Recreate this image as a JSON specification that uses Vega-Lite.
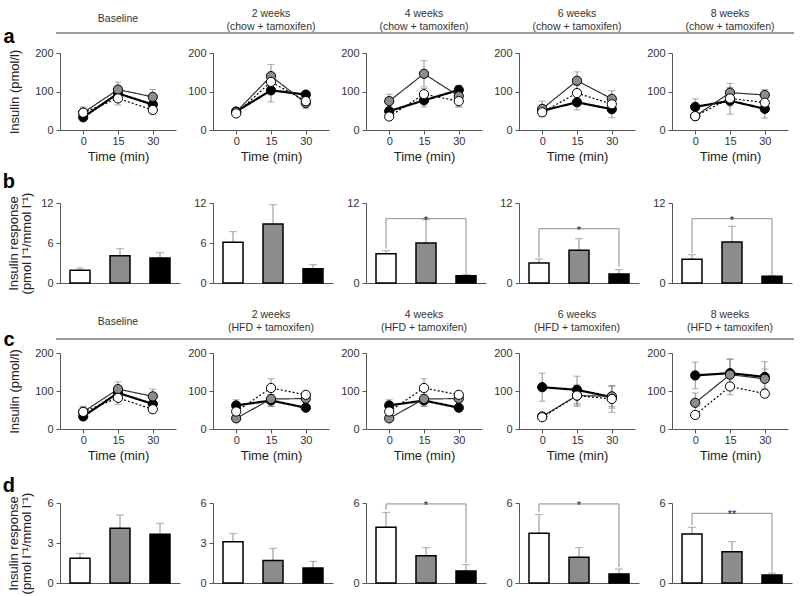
{
"$schema":"https://vega.github.io/schema/vega-lite/v6.json",
"padding":{"left":2,"top":9,"right":5,"bottom":5},
"background":"white",
"config":{
 "view":{"stroke":null},
 "font":"Liberation Sans",
 "axis":{"domainColor":"#555","tickColor":"#555","labelColor":"#333","titleColor":"#222","labelFontSize":11,"titleFontSize":13,"titleFontWeight":"normal","grid":false,"tickSize":4,"domainWidth":1,"tickWidth":1,"labelFont":"Liberation Sans","titleFont":"Liberation Sans","labelOverlap":false},
 "axisX":{"labelPadding":1,"titlePadding":4},
 "axisY":{"labelPadding":3},
 "title":{"fontSize":10.5,"fontWeight":"normal","color":"#333","frame":"group","anchor":"middle","lineHeight":12.5,"font":"Liberation Sans"},
 "legend":{"disable":true}
},
"datasets":{
"curves":[
{"r":"a","p":1,"g":"black","t":0,"v":33,"e":8},{"r":"a","p":1,"g":"black","t":15,"v":95,"e":15},{"r":"a","p":1,"g":"black","t":30,"v":66,"e":12},
{"r":"a","p":1,"g":"gray","t":0,"v":45,"e":12},{"r":"a","p":1,"g":"gray","t":15,"v":105,"e":19},{"r":"a","p":1,"g":"gray","t":30,"v":86,"e":19},
{"r":"a","p":1,"g":"white","t":0,"v":45,"e":15},{"r":"a","p":1,"g":"white","t":15,"v":82,"e":17},{"r":"a","p":1,"g":"white","t":30,"v":52,"e":10},
{"r":"a","p":2,"g":"black","t":0,"v":48,"e":5},{"r":"a","p":2,"g":"black","t":15,"v":103,"e":30},{"r":"a","p":2,"g":"black","t":30,"v":92,"e":8},
{"r":"a","p":2,"g":"gray","t":0,"v":47,"e":5},{"r":"a","p":2,"g":"gray","t":15,"v":140,"e":30},{"r":"a","p":2,"g":"gray","t":30,"v":70,"e":14},
{"r":"a","p":2,"g":"white","t":0,"v":43,"e":5},{"r":"a","p":2,"g":"white","t":15,"v":125,"e":20},{"r":"a","p":2,"g":"white","t":30,"v":75,"e":12},
{"r":"a","p":3,"g":"black","t":0,"v":49,"e":8},{"r":"a","p":3,"g":"black","t":15,"v":77,"e":17},{"r":"a","p":3,"g":"black","t":30,"v":104,"e":10},
{"r":"a","p":3,"g":"gray","t":0,"v":75,"e":18},{"r":"a","p":3,"g":"gray","t":15,"v":146,"e":34},{"r":"a","p":3,"g":"gray","t":30,"v":88,"e":28},
{"r":"a","p":3,"g":"white","t":0,"v":35,"e":5},{"r":"a","p":3,"g":"white","t":15,"v":93,"e":15},{"r":"a","p":3,"g":"white","t":30,"v":75,"e":15},
{"r":"a","p":4,"g":"black","t":0,"v":50,"e":10},{"r":"a","p":4,"g":"black","t":15,"v":72,"e":20},{"r":"a","p":4,"g":"black","t":30,"v":54,"e":22},
{"r":"a","p":4,"g":"gray","t":0,"v":55,"e":20},{"r":"a","p":4,"g":"gray","t":15,"v":128,"e":23},{"r":"a","p":4,"g":"gray","t":30,"v":81,"e":21},
{"r":"a","p":4,"g":"white","t":0,"v":46,"e":10},{"r":"a","p":4,"g":"white","t":15,"v":96,"e":20},{"r":"a","p":4,"g":"white","t":30,"v":67,"e":15},
{"r":"a","p":5,"g":"black","t":0,"v":60,"e":21},{"r":"a","p":5,"g":"black","t":15,"v":76,"e":35},{"r":"a","p":5,"g":"black","t":30,"v":55,"e":24},
{"r":"a","p":5,"g":"gray","t":0,"v":36,"e":5},{"r":"a","p":5,"g":"gray","t":15,"v":97,"e":24},{"r":"a","p":5,"g":"gray","t":30,"v":91,"e":14},
{"r":"a","p":5,"g":"white","t":0,"v":36,"e":5},{"r":"a","p":5,"g":"white","t":15,"v":82,"e":20},{"r":"a","p":5,"g":"white","t":30,"v":71,"e":15},
{"r":"c","p":1,"g":"black","t":0,"v":33,"e":8},{"r":"c","p":1,"g":"black","t":15,"v":95,"e":15},{"r":"c","p":1,"g":"black","t":30,"v":66,"e":12},
{"r":"c","p":1,"g":"gray","t":0,"v":45,"e":12},{"r":"c","p":1,"g":"gray","t":15,"v":105,"e":19},{"r":"c","p":1,"g":"gray","t":30,"v":86,"e":19},
{"r":"c","p":1,"g":"white","t":0,"v":45,"e":15},{"r":"c","p":1,"g":"white","t":15,"v":82,"e":17},{"r":"c","p":1,"g":"white","t":30,"v":52,"e":10},
{"r":"c","p":2,"g":"black","t":0,"v":62,"e":15},{"r":"c","p":2,"g":"black","t":15,"v":75,"e":15},{"r":"c","p":2,"g":"black","t":30,"v":56,"e":5},
{"r":"c","p":2,"g":"gray","t":0,"v":28,"e":5},{"r":"c","p":2,"g":"gray","t":15,"v":79,"e":20},{"r":"c","p":2,"g":"gray","t":30,"v":80,"e":8},
{"r":"c","p":2,"g":"white","t":0,"v":46,"e":10},{"r":"c","p":2,"g":"white","t":15,"v":108,"e":24},{"r":"c","p":2,"g":"white","t":30,"v":90,"e":8},
{"r":"c","p":3,"g":"black","t":0,"v":62,"e":15},{"r":"c","p":3,"g":"black","t":15,"v":75,"e":15},{"r":"c","p":3,"g":"black","t":30,"v":56,"e":5},
{"r":"c","p":3,"g":"gray","t":0,"v":28,"e":5},{"r":"c","p":3,"g":"gray","t":15,"v":79,"e":20},{"r":"c","p":3,"g":"gray","t":30,"v":80,"e":8},
{"r":"c","p":3,"g":"white","t":0,"v":46,"e":10},{"r":"c","p":3,"g":"white","t":15,"v":108,"e":24},{"r":"c","p":3,"g":"white","t":30,"v":90,"e":8},
{"r":"c","p":4,"g":"black","t":0,"v":110,"e":37},{"r":"c","p":4,"g":"black","t":15,"v":103,"e":36},{"r":"c","p":4,"g":"black","t":30,"v":84,"e":29},
{"r":"c","p":4,"g":"gray","t":0,"v":33,"e":8},{"r":"c","p":4,"g":"gray","t":15,"v":88,"e":28},{"r":"c","p":4,"g":"gray","t":30,"v":86,"e":27},
{"r":"c","p":4,"g":"white","t":0,"v":31,"e":8},{"r":"c","p":4,"g":"white","t":15,"v":88,"e":25},{"r":"c","p":4,"g":"white","t":30,"v":79,"e":35},
{"r":"c","p":5,"g":"black","t":0,"v":141,"e":35},{"r":"c","p":5,"g":"black","t":15,"v":147,"e":38},{"r":"c","p":5,"g":"black","t":30,"v":137,"e":40},
{"r":"c","p":5,"g":"gray","t":0,"v":69,"e":26},{"r":"c","p":5,"g":"gray","t":15,"v":143,"e":40},{"r":"c","p":5,"g":"gray","t":30,"v":132,"e":26},
{"r":"c","p":5,"g":"white","t":0,"v":37,"e":8},{"r":"c","p":5,"g":"white","t":15,"v":112,"e":22},{"r":"c","p":5,"g":"white","t":30,"v":93,"e":10}
],
"bars":[
{"r":"b","p":1,"g":"white","v":1.9,"hi":2.25},{"r":"b","p":1,"g":"gray","v":4.1,"hi":5.15},{"r":"b","p":1,"g":"black","v":3.75,"hi":4.55},
{"r":"b","p":2,"g":"white","v":6.1,"hi":7.7},{"r":"b","p":2,"g":"gray","v":8.85,"hi":11.75},{"r":"b","p":2,"g":"black","v":2.15,"hi":2.75},
{"r":"b","p":3,"g":"white","v":4.4,"hi":4.85},{"r":"b","p":3,"g":"gray","v":6.0,"hi":9.5},{"r":"b","p":3,"g":"black","v":1.1,"hi":1.25},
{"r":"b","p":4,"g":"white","v":3.0,"hi":3.6},{"r":"b","p":4,"g":"gray","v":4.9,"hi":6.65},{"r":"b","p":4,"g":"black","v":1.35,"hi":2.0},
{"r":"b","p":5,"g":"white","v":3.55,"hi":4.25},{"r":"b","p":5,"g":"gray","v":6.15,"hi":8.5},{"r":"b","p":5,"g":"black","v":1.0,"hi":1.1},
{"r":"d","p":1,"g":"white","v":1.85,"hi":2.22},{"r":"d","p":1,"g":"gray","v":4.1,"hi":5.1},{"r":"d","p":1,"g":"black","v":3.65,"hi":4.47},
{"r":"d","p":2,"g":"white","v":3.1,"hi":3.7},{"r":"d","p":2,"g":"gray","v":1.68,"hi":2.6},{"r":"d","p":2,"g":"black","v":1.12,"hi":1.62},
{"r":"d","p":3,"g":"white","v":4.18,"hi":5.3},{"r":"d","p":3,"g":"gray","v":2.05,"hi":2.65},{"r":"d","p":3,"g":"black","v":0.9,"hi":1.38},
{"r":"d","p":4,"g":"white","v":3.73,"hi":5.13},{"r":"d","p":4,"g":"gray","v":1.93,"hi":2.65},{"r":"d","p":4,"g":"black","v":0.68,"hi":1.05},
{"r":"d","p":5,"g":"white","v":3.68,"hi":4.18},{"r":"d","p":5,"g":"gray","v":2.35,"hi":3.1},{"r":"d","p":5,"g":"black","v":0.6,"hi":0.75}
],
"brackets":[
{"r":"b","p":3,"g":"white","s":1,"y":5.15},{"r":"b","p":3,"g":"white","s":2,"y":9.65},{"r":"b","p":3,"g":"black","s":3,"y":9.65},{"r":"b","p":3,"g":"black","s":4,"y":1.4},
{"r":"b","p":4,"g":"white","s":1,"y":3.85},{"r":"b","p":4,"g":"white","s":2,"y":8.15},{"r":"b","p":4,"g":"black","s":3,"y":8.15},{"r":"b","p":4,"g":"black","s":4,"y":2.45},
{"r":"b","p":5,"g":"white","s":1,"y":4.5},{"r":"b","p":5,"g":"white","s":2,"y":9.65},{"r":"b","p":5,"g":"black","s":3,"y":9.65},{"r":"b","p":5,"g":"black","s":4,"y":1.15},
{"r":"d","p":3,"g":"white","s":1,"y":5.5},{"r":"d","p":3,"g":"white","s":2,"y":5.93},{"r":"d","p":3,"g":"black","s":3,"y":5.93},{"r":"d","p":3,"g":"black","s":4,"y":1.5},
{"r":"d","p":4,"g":"white","s":1,"y":5.3},{"r":"d","p":4,"g":"white","s":2,"y":5.93},{"r":"d","p":4,"g":"black","s":3,"y":5.93},{"r":"d","p":4,"g":"black","s":4,"y":1.2},
{"r":"d","p":5,"g":"white","s":1,"y":4.35},{"r":"d","p":5,"g":"white","s":2,"y":5.23},{"r":"d","p":5,"g":"black","s":3,"y":5.23},{"r":"d","p":5,"g":"black","s":4,"y":0.85}
],
"stars":[
{"r":"b","p":3,"g":"gray","lab":"*","y":9.65},{"r":"b","p":4,"g":"gray","lab":"*","y":8.15},{"r":"b","p":5,"g":"gray","lab":"*","y":9.65},
{"r":"d","p":3,"g":"gray","lab":"*","y":5.93},{"r":"d","p":4,"g":"gray","lab":"*","y":5.93},{"r":"d","p":5,"g":"gray","lab":"**","y":5.23}
]
},
"bounds":"flush",
"spacing":150,
"vconcat":[
{"bounds":"flush","spacing":37,"hconcat":[
 {"width":116,"height":77,"title":{"text":"Baseline","offset":3},"resolve":{"axis":{"x":"independent","y":"independent"}},"layer":[
  {"data":{"name":"curves"},"transform":[{"filter":"datum.r=='a'&&datum.p==1"}],
   "encoding":{"x":{"field":"t","type":"quantitative","scale":{"domain":[-10,40]},"axis":{"values":[0,15,30],"title":"Time (min)","titleFontWeight":"normal","titleFontSize":13,"labelFontSize":11}},"y":{"field":"v","type":"quantitative","scale":{"domain":[0,200]},"axis":{"values":[0,100,200],"title":"Insulin (pmol/l)","titlePadding":13,"titleFontWeight":"normal","titleFontSize":13,"labelFontSize":11}}},
   "layer":[
    {"mark":{"type":"errorbar","color":"#8c8c8c","thickness":1,"ticks":{"size":7,"color":"#8c8c8c"},"rule":{"color":"#8c8c8c"}},"encoding":{"yError":{"field":"e"}}},
    {"mark":{"type":"line"},"encoding":{"stroke":{"field":"g","type":"nominal","scale":{"domain":["black","gray","white"],"range":["#000","#333","#000"]},"legend":null},"strokeDash":{"field":"g","type":"nominal","scale":{"domain":["black","gray","white"],"range":[[1,0],[1,0],[2,2]]},"legend":null},"strokeWidth":{"condition":{"test":"datum.g=='black'","value":2.2},"value":1.2}}},
    {"mark":{"type":"circle","size":85,"opacity":1,"stroke":"#000","strokeWidth":1},"encoding":{"fill":{"field":"g","type":"nominal","scale":{"domain":["black","gray","white"],"range":["#000","#8c8c8c","#fff"]},"legend":null}}}
   ]},
  {"data":{"values":[{}]},"mark":{"type":"rule","color":"#777","strokeWidth":1.5},"encoding":{"x":{"datum":-11.7,"axis":null},"x2":{"datum":56},"y":{"datum":252,"axis":null}}},
  {"data":{"values":[{}]},"mark":{"type":"text","text":"a","fontSize":20,"fontWeight":"bold","align":"center","baseline":"alphabetic","fill":"#000"},"encoding":{"x":{"datum":-32,"axis":null},"y":{"datum":225,"axis":null}}},
  {"data":{"values":[{}]},"mark":{"type":"text","text":"b","fontSize":20,"fontWeight":"bold","align":"center","baseline":"alphabetic","fill":"#000"},"encoding":{"x":{"datum":-32,"axis":null},"y":{"datum":-151,"axis":null}}}
 ]},
 {"width":116,"height":77,"title":{"text":["2 weeks","(chow + tamoxifen)"],"offset":0},"resolve":{"axis":{"x":"independent","y":"independent"}},"layer":[
  {"data":{"name":"curves"},"transform":[{"filter":"datum.r=='a'&&datum.p==2"}],
   "encoding":{"x":{"field":"t","type":"quantitative","scale":{"domain":[-10,40]},"axis":{"values":[0,15,30],"title":"Time (min)","titleFontWeight":"normal","titleFontSize":13,"labelFontSize":11}},"y":{"field":"v","type":"quantitative","scale":{"domain":[0,200]},"axis":{"values":[0,100,200],"title":null,"labelFontSize":11}}},
   "layer":[
    {"mark":{"type":"errorbar","color":"#8c8c8c","thickness":1,"ticks":{"size":7,"color":"#8c8c8c"},"rule":{"color":"#8c8c8c"}},"encoding":{"yError":{"field":"e"}}},
    {"mark":{"type":"line"},"encoding":{"stroke":{"field":"g","type":"nominal","scale":{"domain":["black","gray","white"],"range":["#000","#333","#000"]},"legend":null},"strokeDash":{"field":"g","type":"nominal","scale":{"domain":["black","gray","white"],"range":[[1,0],[1,0],[2,2]]},"legend":null},"strokeWidth":{"condition":{"test":"datum.g=='black'","value":2.2},"value":1.2}}},
    {"mark":{"type":"circle","size":85,"opacity":1,"stroke":"#000","strokeWidth":1},"encoding":{"fill":{"field":"g","type":"nominal","scale":{"domain":["black","gray","white"],"range":["#000","#8c8c8c","#fff"]},"legend":null}}}
   ]},
  {"data":{"values":[{}]},"mark":{"type":"rule","color":"#777","strokeWidth":1.5},"encoding":{"x":{"datum":-10,"axis":null},"x2":{"datum":56},"y":{"datum":252,"axis":null}}}
 ]},
 {"width":116,"height":77,"title":{"text":["4 weeks","(chow + tamoxifen)"],"offset":0},"resolve":{"axis":{"x":"independent","y":"independent"}},"layer":[
  {"data":{"name":"curves"},"transform":[{"filter":"datum.r=='a'&&datum.p==3"}],
   "encoding":{"x":{"field":"t","type":"quantitative","scale":{"domain":[-10,40]},"axis":{"values":[0,15,30],"title":"Time (min)","titleFontWeight":"normal","titleFontSize":13,"labelFontSize":11}},"y":{"field":"v","type":"quantitative","scale":{"domain":[0,200]},"axis":{"values":[0,100,200],"title":null,"labelFontSize":11}}},
   "layer":[
    {"mark":{"type":"errorbar","color":"#8c8c8c","thickness":1,"ticks":{"size":7,"color":"#8c8c8c"},"rule":{"color":"#8c8c8c"}},"encoding":{"yError":{"field":"e"}}},
    {"mark":{"type":"line"},"encoding":{"stroke":{"field":"g","type":"nominal","scale":{"domain":["black","gray","white"],"range":["#000","#333","#000"]},"legend":null},"strokeDash":{"field":"g","type":"nominal","scale":{"domain":["black","gray","white"],"range":[[1,0],[1,0],[2,2]]},"legend":null},"strokeWidth":{"condition":{"test":"datum.g=='black'","value":2.2},"value":1.2}}},
    {"mark":{"type":"circle","size":85,"opacity":1,"stroke":"#000","strokeWidth":1},"encoding":{"fill":{"field":"g","type":"nominal","scale":{"domain":["black","gray","white"],"range":["#000","#8c8c8c","#fff"]},"legend":null}}}
   ]},
  {"data":{"values":[{}]},"mark":{"type":"rule","color":"#777","strokeWidth":1.5},"encoding":{"x":{"datum":-10,"axis":null},"x2":{"datum":56},"y":{"datum":252,"axis":null}}}
 ]},
 {"width":116,"height":77,"title":{"text":["6 weeks","(chow + tamoxifen)"],"offset":0},"resolve":{"axis":{"x":"independent","y":"independent"}},"layer":[
  {"data":{"name":"curves"},"transform":[{"filter":"datum.r=='a'&&datum.p==4"}],
   "encoding":{"x":{"field":"t","type":"quantitative","scale":{"domain":[-10,40]},"axis":{"values":[0,15,30],"title":"Time (min)","titleFontWeight":"normal","titleFontSize":13,"labelFontSize":11}},"y":{"field":"v","type":"quantitative","scale":{"domain":[0,200]},"axis":{"values":[0,100,200],"title":null,"labelFontSize":11}}},
   "layer":[
    {"mark":{"type":"errorbar","color":"#8c8c8c","thickness":1,"ticks":{"size":7,"color":"#8c8c8c"},"rule":{"color":"#8c8c8c"}},"encoding":{"yError":{"field":"e"}}},
    {"mark":{"type":"line"},"encoding":{"stroke":{"field":"g","type":"nominal","scale":{"domain":["black","gray","white"],"range":["#000","#333","#000"]},"legend":null},"strokeDash":{"field":"g","type":"nominal","scale":{"domain":["black","gray","white"],"range":[[1,0],[1,0],[2,2]]},"legend":null},"strokeWidth":{"condition":{"test":"datum.g=='black'","value":2.2},"value":1.2}}},
    {"mark":{"type":"circle","size":85,"opacity":1,"stroke":"#000","strokeWidth":1},"encoding":{"fill":{"field":"g","type":"nominal","scale":{"domain":["black","gray","white"],"range":["#000","#8c8c8c","#fff"]},"legend":null}}}
   ]},
  {"data":{"values":[{}]},"mark":{"type":"rule","color":"#777","strokeWidth":1.5},"encoding":{"x":{"datum":-10,"axis":null},"x2":{"datum":56},"y":{"datum":252,"axis":null}}}
 ]},
 {"width":116,"height":77,"title":{"text":["8 weeks","(chow + tamoxifen)"],"offset":0},"resolve":{"axis":{"x":"independent","y":"independent"}},"layer":[
  {"data":{"name":"curves"},"transform":[{"filter":"datum.r=='a'&&datum.p==5"}],
   "encoding":{"x":{"field":"t","type":"quantitative","scale":{"domain":[-10,40]},"axis":{"values":[0,15,30],"title":"Time (min)","titleFontWeight":"normal","titleFontSize":13,"labelFontSize":11}},"y":{"field":"v","type":"quantitative","scale":{"domain":[0,200]},"axis":{"values":[0,100,200],"title":null,"labelFontSize":11}}},
   "layer":[
    {"mark":{"type":"errorbar","color":"#8c8c8c","thickness":1,"ticks":{"size":7,"color":"#8c8c8c"},"rule":{"color":"#8c8c8c"}},"encoding":{"yError":{"field":"e"}}},
    {"mark":{"type":"line"},"encoding":{"stroke":{"field":"g","type":"nominal","scale":{"domain":["black","gray","white"],"range":["#000","#333","#000"]},"legend":null},"strokeDash":{"field":"g","type":"nominal","scale":{"domain":["black","gray","white"],"range":[[1,0],[1,0],[2,2]]},"legend":null},"strokeWidth":{"condition":{"test":"datum.g=='black'","value":2.2},"value":1.2}}},
    {"mark":{"type":"circle","size":85,"opacity":1,"stroke":"#000","strokeWidth":1},"encoding":{"fill":{"field":"g","type":"nominal","scale":{"domain":["black","gray","white"],"range":["#000","#8c8c8c","#fff"]},"legend":null}}}
   ]},
  {"data":{"values":[{}]},"mark":{"type":"rule","color":"#777","strokeWidth":1.5},"encoding":{"x":{"datum":-10,"axis":null},"x2":{"datum":42.6},"y":{"datum":252,"axis":null}}}
 ]}
]},
{"bounds":"flush","spacing":33,"hconcat":[
 {"width":120,"height":80,"layer":[
  {"data":{"name":"bars"},"transform":[{"filter":"datum.r=='b'&&datum.p==1"}],
   "encoding":{"x":{"field":"g","type":"nominal","scale":{"domain":["white","gray","black"],"paddingInner":0.5,"paddingOuter":0.25},"axis":{"labels":false,"ticks":false,"title":null}},"y":{"field":"v","type":"quantitative","scale":{"domain":[0,12]},"axis":{"values":[0,6,12],"title":["Insulin response","(pmol l⁻¹/mmol l⁻¹)"],"titlePadding":7,"titleLineHeight":13}}},
   "layer":[
    {"mark":{"type":"errorbar","color":"#8c8c8c","thickness":1,"ticks":{"size":8,"color":"#8c8c8c"},"rule":{"color":"#8c8c8c"}},"encoding":{"y2":{"field":"hi"}}},
    {"mark":{"type":"bar","stroke":"#000","strokeWidth":1.5},"encoding":{"fill":{"field":"g","type":"nominal","scale":{"domain":["black","gray","white"],"range":["#000","#8c8c8c","#fff"]},"legend":null}}}
   ]}
 ]},
 {"width":120,"height":80,"layer":[
  {"data":{"name":"bars"},"transform":[{"filter":"datum.r=='b'&&datum.p==2"}],
   "encoding":{"x":{"field":"g","type":"nominal","scale":{"domain":["white","gray","black"],"paddingInner":0.5,"paddingOuter":0.25},"axis":{"labels":false,"ticks":false,"title":null}},"y":{"field":"v","type":"quantitative","scale":{"domain":[0,12]},"axis":{"values":[0,6,12],"title":null}}},
   "layer":[
    {"mark":{"type":"errorbar","color":"#8c8c8c","thickness":1,"ticks":{"size":8,"color":"#8c8c8c"},"rule":{"color":"#8c8c8c"}},"encoding":{"y2":{"field":"hi"}}},
    {"mark":{"type":"bar","stroke":"#000","strokeWidth":1.5},"encoding":{"fill":{"field":"g","type":"nominal","scale":{"domain":["black","gray","white"],"range":["#000","#8c8c8c","#fff"]},"legend":null}}}
   ]}
 ]},
 {"width":120,"height":80,"layer":[
  {"data":{"name":"bars"},"transform":[{"filter":"datum.r=='b'&&datum.p==3"}],
   "encoding":{"x":{"field":"g","type":"nominal","scale":{"domain":["white","gray","black"],"paddingInner":0.5,"paddingOuter":0.25},"axis":{"labels":false,"ticks":false,"title":null}},"y":{"field":"v","type":"quantitative","scale":{"domain":[0,12]},"axis":{"values":[0,6,12],"title":null}}},
   "layer":[
    {"mark":{"type":"errorbar","color":"#8c8c8c","thickness":1,"ticks":{"size":8,"color":"#8c8c8c"},"rule":{"color":"#8c8c8c"}},"encoding":{"y2":{"field":"hi"}}},
    {"mark":{"type":"bar","stroke":"#000","strokeWidth":1.5},"encoding":{"fill":{"field":"g","type":"nominal","scale":{"domain":["black","gray","white"],"range":["#000","#8c8c8c","#fff"]},"legend":null}}}
   ]},
  {"data":{"name":"brackets"},"transform":[{"filter":"datum.r=='b'&&datum.p==3"}],"mark":{"type":"line","color":"#8c8c8c","strokeWidth":1},"encoding":{"x":{"field":"g","type":"nominal","title":null},"y":{"field":"y","type":"quantitative","title":null},"order":{"field":"s","type":"quantitative"}}},
  {"data":{"name":"stars"},"transform":[{"filter":"datum.r=='b'&&datum.p==3"}],"mark":{"type":"text","baseline":"middle","dy":2,"fontSize":11,"fill":"#222"},"encoding":{"x":{"field":"g","type":"nominal","title":null},"y":{"field":"y","type":"quantitative","title":null},"text":{"field":"lab"}}}
 ]},
 {"width":120,"height":80,"layer":[
  {"data":{"name":"bars"},"transform":[{"filter":"datum.r=='b'&&datum.p==4"}],
   "encoding":{"x":{"field":"g","type":"nominal","scale":{"domain":["white","gray","black"],"paddingInner":0.5,"paddingOuter":0.25},"axis":{"labels":false,"ticks":false,"title":null}},"y":{"field":"v","type":"quantitative","scale":{"domain":[0,12]},"axis":{"values":[0,6,12],"title":null}}},
   "layer":[
    {"mark":{"type":"errorbar","color":"#8c8c8c","thickness":1,"ticks":{"size":8,"color":"#8c8c8c"},"rule":{"color":"#8c8c8c"}},"encoding":{"y2":{"field":"hi"}}},
    {"mark":{"type":"bar","stroke":"#000","strokeWidth":1.5},"encoding":{"fill":{"field":"g","type":"nominal","scale":{"domain":["black","gray","white"],"range":["#000","#8c8c8c","#fff"]},"legend":null}}}
   ]},
  {"data":{"name":"brackets"},"transform":[{"filter":"datum.r=='b'&&datum.p==4"}],"mark":{"type":"line","color":"#8c8c8c","strokeWidth":1},"encoding":{"x":{"field":"g","type":"nominal","title":null},"y":{"field":"y","type":"quantitative","title":null},"order":{"field":"s","type":"quantitative"}}},
  {"data":{"name":"stars"},"transform":[{"filter":"datum.r=='b'&&datum.p==4"}],"mark":{"type":"text","baseline":"middle","dy":2,"fontSize":11,"fill":"#222"},"encoding":{"x":{"field":"g","type":"nominal","title":null},"y":{"field":"y","type":"quantitative","title":null},"text":{"field":"lab"}}}
 ]},
 {"width":120,"height":80,"layer":[
  {"data":{"name":"bars"},"transform":[{"filter":"datum.r=='b'&&datum.p==5"}],
   "encoding":{"x":{"field":"g","type":"nominal","scale":{"domain":["white","gray","black"],"paddingInner":0.5,"paddingOuter":0.25},"axis":{"labels":false,"ticks":false,"title":null}},"y":{"field":"v","type":"quantitative","scale":{"domain":[0,12]},"axis":{"values":[0,6,12],"title":null}}},
   "layer":[
    {"mark":{"type":"errorbar","color":"#8c8c8c","thickness":1,"ticks":{"size":8,"color":"#8c8c8c"},"rule":{"color":"#8c8c8c"}},"encoding":{"y2":{"field":"hi"}}},
    {"mark":{"type":"bar","stroke":"#000","strokeWidth":1.5},"encoding":{"fill":{"field":"g","type":"nominal","scale":{"domain":["black","gray","white"],"range":["#000","#8c8c8c","#fff"]},"legend":null}}}
   ]},
  {"data":{"name":"brackets"},"transform":[{"filter":"datum.r=='b'&&datum.p==5"}],"mark":{"type":"line","color":"#8c8c8c","strokeWidth":1},"encoding":{"x":{"field":"g","type":"nominal","title":null},"y":{"field":"y","type":"quantitative","title":null},"order":{"field":"s","type":"quantitative"}}},
  {"data":{"name":"stars"},"transform":[{"filter":"datum.r=='b'&&datum.p==5"}],"mark":{"type":"text","baseline":"middle","dy":2,"fontSize":11,"fill":"#222"},"encoding":{"x":{"field":"g","type":"nominal","title":null},"y":{"field":"y","type":"quantitative","title":null},"text":{"field":"lab"}}}
 ]}
]},
{"bounds":"flush","spacing":37,"hconcat":[
 {"width":116,"height":76,"title":{"text":"Baseline","offset":3},"resolve":{"axis":{"x":"independent","y":"independent"}},"layer":[
  {"data":{"name":"curves"},"transform":[{"filter":"datum.r=='c'&&datum.p==1"}],
   "encoding":{"x":{"field":"t","type":"quantitative","scale":{"domain":[-10,40]},"axis":{"values":[0,15,30],"title":"Time (min)","titleFontWeight":"normal","titleFontSize":13,"labelFontSize":11}},"y":{"field":"v","type":"quantitative","scale":{"domain":[0,200]},"axis":{"values":[0,100,200],"title":"Insulin (pmol/l)","titlePadding":13,"titleFontWeight":"normal","titleFontSize":13,"labelFontSize":11}}},
   "layer":[
    {"mark":{"type":"errorbar","color":"#8c8c8c","thickness":1,"ticks":{"size":7,"color":"#8c8c8c"},"rule":{"color":"#8c8c8c"}},"encoding":{"yError":{"field":"e"}}},
    {"mark":{"type":"line"},"encoding":{"stroke":{"field":"g","type":"nominal","scale":{"domain":["black","gray","white"],"range":["#000","#333","#000"]},"legend":null},"strokeDash":{"field":"g","type":"nominal","scale":{"domain":["black","gray","white"],"range":[[1,0],[1,0],[2,2]]},"legend":null},"strokeWidth":{"condition":{"test":"datum.g=='black'","value":2.2},"value":1.2}}},
    {"mark":{"type":"circle","size":85,"opacity":1,"stroke":"#000","strokeWidth":1},"encoding":{"fill":{"field":"g","type":"nominal","scale":{"domain":["black","gray","white"],"range":["#000","#8c8c8c","#fff"]},"legend":null}}}
   ]},
  {"data":{"values":[{}]},"mark":{"type":"rule","color":"#777","strokeWidth":1.5},"encoding":{"x":{"datum":-11.7,"axis":null},"x2":{"datum":56},"y":{"datum":237,"axis":null}}},
  {"data":{"values":[{}]},"mark":{"type":"text","text":"c","fontSize":20,"fontWeight":"bold","align":"center","baseline":"alphabetic","fill":"#000"},"encoding":{"x":{"datum":-32,"axis":null},"y":{"datum":218,"axis":null}}},
  {"data":{"values":[{}]},"mark":{"type":"text","text":"d","fontSize":20,"fontWeight":"bold","align":"center","baseline":"alphabetic","fill":"#000"},"encoding":{"x":{"datum":-32,"axis":null},"y":{"datum":-166,"axis":null}}}
 ]},
 {"width":116,"height":76,"title":{"text":["2 weeks","(HFD + tamoxifen)"],"offset":5},"resolve":{"axis":{"x":"independent","y":"independent"}},"layer":[
  {"data":{"name":"curves"},"transform":[{"filter":"datum.r=='c'&&datum.p==2"}],
   "encoding":{"x":{"field":"t","type":"quantitative","scale":{"domain":[-10,40]},"axis":{"values":[0,15,30],"title":"Time (min)","titleFontWeight":"normal","titleFontSize":13,"labelFontSize":11}},"y":{"field":"v","type":"quantitative","scale":{"domain":[0,200]},"axis":{"values":[0,100,200],"title":null,"labelFontSize":11}}},
   "layer":[
    {"mark":{"type":"errorbar","color":"#8c8c8c","thickness":1,"ticks":{"size":7,"color":"#8c8c8c"},"rule":{"color":"#8c8c8c"}},"encoding":{"yError":{"field":"e"}}},
    {"mark":{"type":"line"},"encoding":{"stroke":{"field":"g","type":"nominal","scale":{"domain":["black","gray","white"],"range":["#000","#333","#000"]},"legend":null},"strokeDash":{"field":"g","type":"nominal","scale":{"domain":["black","gray","white"],"range":[[1,0],[1,0],[2,2]]},"legend":null},"strokeWidth":{"condition":{"test":"datum.g=='black'","value":2.2},"value":1.2}}},
    {"mark":{"type":"circle","size":85,"opacity":1,"stroke":"#000","strokeWidth":1},"encoding":{"fill":{"field":"g","type":"nominal","scale":{"domain":["black","gray","white"],"range":["#000","#8c8c8c","#fff"]},"legend":null}}}
   ]},
  {"data":{"values":[{}]},"mark":{"type":"rule","color":"#777","strokeWidth":1.5},"encoding":{"x":{"datum":-10,"axis":null},"x2":{"datum":56},"y":{"datum":237,"axis":null}}}
 ]},
 {"width":116,"height":76,"title":{"text":["4 weeks","(HFD + tamoxifen)"],"offset":5},"resolve":{"axis":{"x":"independent","y":"independent"}},"layer":[
  {"data":{"name":"curves"},"transform":[{"filter":"datum.r=='c'&&datum.p==3"}],
   "encoding":{"x":{"field":"t","type":"quantitative","scale":{"domain":[-10,40]},"axis":{"values":[0,15,30],"title":"Time (min)","titleFontWeight":"normal","titleFontSize":13,"labelFontSize":11}},"y":{"field":"v","type":"quantitative","scale":{"domain":[0,200]},"axis":{"values":[0,100,200],"title":null,"labelFontSize":11}}},
   "layer":[
    {"mark":{"type":"errorbar","color":"#8c8c8c","thickness":1,"ticks":{"size":7,"color":"#8c8c8c"},"rule":{"color":"#8c8c8c"}},"encoding":{"yError":{"field":"e"}}},
    {"mark":{"type":"line"},"encoding":{"stroke":{"field":"g","type":"nominal","scale":{"domain":["black","gray","white"],"range":["#000","#333","#000"]},"legend":null},"strokeDash":{"field":"g","type":"nominal","scale":{"domain":["black","gray","white"],"range":[[1,0],[1,0],[2,2]]},"legend":null},"strokeWidth":{"condition":{"test":"datum.g=='black'","value":2.2},"value":1.2}}},
    {"mark":{"type":"circle","size":85,"opacity":1,"stroke":"#000","strokeWidth":1},"encoding":{"fill":{"field":"g","type":"nominal","scale":{"domain":["black","gray","white"],"range":["#000","#8c8c8c","#fff"]},"legend":null}}}
   ]},
  {"data":{"values":[{}]},"mark":{"type":"rule","color":"#777","strokeWidth":1.5},"encoding":{"x":{"datum":-10,"axis":null},"x2":{"datum":56},"y":{"datum":237,"axis":null}}}
 ]},
 {"width":116,"height":76,"title":{"text":["6 weeks","(HFD + tamoxifen)"],"offset":5},"resolve":{"axis":{"x":"independent","y":"independent"}},"layer":[
  {"data":{"name":"curves"},"transform":[{"filter":"datum.r=='c'&&datum.p==4"}],
   "encoding":{"x":{"field":"t","type":"quantitative","scale":{"domain":[-10,40]},"axis":{"values":[0,15,30],"title":"Time (min)","titleFontWeight":"normal","titleFontSize":13,"labelFontSize":11}},"y":{"field":"v","type":"quantitative","scale":{"domain":[0,200]},"axis":{"values":[0,100,200],"title":null,"labelFontSize":11}}},
   "layer":[
    {"mark":{"type":"errorbar","color":"#8c8c8c","thickness":1,"ticks":{"size":7,"color":"#8c8c8c"},"rule":{"color":"#8c8c8c"}},"encoding":{"yError":{"field":"e"}}},
    {"mark":{"type":"line"},"encoding":{"stroke":{"field":"g","type":"nominal","scale":{"domain":["black","gray","white"],"range":["#000","#333","#000"]},"legend":null},"strokeDash":{"field":"g","type":"nominal","scale":{"domain":["black","gray","white"],"range":[[1,0],[1,0],[2,2]]},"legend":null},"strokeWidth":{"condition":{"test":"datum.g=='black'","value":2.2},"value":1.2}}},
    {"mark":{"type":"circle","size":85,"opacity":1,"stroke":"#000","strokeWidth":1},"encoding":{"fill":{"field":"g","type":"nominal","scale":{"domain":["black","gray","white"],"range":["#000","#8c8c8c","#fff"]},"legend":null}}}
   ]},
  {"data":{"values":[{}]},"mark":{"type":"rule","color":"#777","strokeWidth":1.5},"encoding":{"x":{"datum":-10,"axis":null},"x2":{"datum":56},"y":{"datum":237,"axis":null}}}
 ]},
 {"width":116,"height":76,"title":{"text":["8 weeks","(HFD + tamoxifen)"],"offset":5},"resolve":{"axis":{"x":"independent","y":"independent"}},"layer":[
  {"data":{"name":"curves"},"transform":[{"filter":"datum.r=='c'&&datum.p==5"}],
   "encoding":{"x":{"field":"t","type":"quantitative","scale":{"domain":[-10,40]},"axis":{"values":[0,15,30],"title":"Time (min)","titleFontWeight":"normal","titleFontSize":13,"labelFontSize":11}},"y":{"field":"v","type":"quantitative","scale":{"domain":[0,200]},"axis":{"values":[0,100,200],"title":null,"labelFontSize":11}}},
   "layer":[
    {"mark":{"type":"errorbar","color":"#8c8c8c","thickness":1,"ticks":{"size":7,"color":"#8c8c8c"},"rule":{"color":"#8c8c8c"}},"encoding":{"yError":{"field":"e"}}},
    {"mark":{"type":"line"},"encoding":{"stroke":{"field":"g","type":"nominal","scale":{"domain":["black","gray","white"],"range":["#000","#333","#000"]},"legend":null},"strokeDash":{"field":"g","type":"nominal","scale":{"domain":["black","gray","white"],"range":[[1,0],[1,0],[2,2]]},"legend":null},"strokeWidth":{"condition":{"test":"datum.g=='black'","value":2.2},"value":1.2}}},
    {"mark":{"type":"circle","size":85,"opacity":1,"stroke":"#000","strokeWidth":1},"encoding":{"fill":{"field":"g","type":"nominal","scale":{"domain":["black","gray","white"],"range":["#000","#8c8c8c","#fff"]},"legend":null}}}
   ]},
  {"data":{"values":[{}]},"mark":{"type":"rule","color":"#777","strokeWidth":1.5},"encoding":{"x":{"datum":-10,"axis":null},"x2":{"datum":42.6},"y":{"datum":237,"axis":null}}}
 ]}
]},
{"bounds":"flush","spacing":33,"hconcat":[
 {"width":120,"height":80,"layer":[
  {"data":{"name":"bars"},"transform":[{"filter":"datum.r=='d'&&datum.p==1"}],
   "encoding":{"x":{"field":"g","type":"nominal","scale":{"domain":["white","gray","black"],"paddingInner":0.5,"paddingOuter":0.25},"axis":{"labels":false,"ticks":false,"title":null}},"y":{"field":"v","type":"quantitative","scale":{"domain":[0,6]},"axis":{"values":[0,3,6],"title":["Insulin response","(pmol l⁻¹/mmol l⁻¹)"],"titlePadding":13,"titleLineHeight":13}}},
   "layer":[
    {"mark":{"type":"errorbar","color":"#8c8c8c","thickness":1,"ticks":{"size":8,"color":"#8c8c8c"},"rule":{"color":"#8c8c8c"}},"encoding":{"y2":{"field":"hi"}}},
    {"mark":{"type":"bar","stroke":"#000","strokeWidth":1.5},"encoding":{"fill":{"field":"g","type":"nominal","scale":{"domain":["black","gray","white"],"range":["#000","#8c8c8c","#fff"]},"legend":null}}}
   ]}
 ]},
 {"width":120,"height":80,"layer":[
  {"data":{"name":"bars"},"transform":[{"filter":"datum.r=='d'&&datum.p==2"}],
   "encoding":{"x":{"field":"g","type":"nominal","scale":{"domain":["white","gray","black"],"paddingInner":0.5,"paddingOuter":0.25},"axis":{"labels":false,"ticks":false,"title":null}},"y":{"field":"v","type":"quantitative","scale":{"domain":[0,6]},"axis":{"values":[0,3,6],"title":null}}},
   "layer":[
    {"mark":{"type":"errorbar","color":"#8c8c8c","thickness":1,"ticks":{"size":8,"color":"#8c8c8c"},"rule":{"color":"#8c8c8c"}},"encoding":{"y2":{"field":"hi"}}},
    {"mark":{"type":"bar","stroke":"#000","strokeWidth":1.5},"encoding":{"fill":{"field":"g","type":"nominal","scale":{"domain":["black","gray","white"],"range":["#000","#8c8c8c","#fff"]},"legend":null}}}
   ]}
 ]},
 {"width":120,"height":80,"layer":[
  {"data":{"name":"bars"},"transform":[{"filter":"datum.r=='d'&&datum.p==3"}],
   "encoding":{"x":{"field":"g","type":"nominal","scale":{"domain":["white","gray","black"],"paddingInner":0.5,"paddingOuter":0.25},"axis":{"labels":false,"ticks":false,"title":null}},"y":{"field":"v","type":"quantitative","scale":{"domain":[0,6]},"axis":{"values":[0,3,6],"title":null}}},
   "layer":[
    {"mark":{"type":"errorbar","color":"#8c8c8c","thickness":1,"ticks":{"size":8,"color":"#8c8c8c"},"rule":{"color":"#8c8c8c"}},"encoding":{"y2":{"field":"hi"}}},
    {"mark":{"type":"bar","stroke":"#000","strokeWidth":1.5},"encoding":{"fill":{"field":"g","type":"nominal","scale":{"domain":["black","gray","white"],"range":["#000","#8c8c8c","#fff"]},"legend":null}}}
   ]},
  {"data":{"name":"brackets"},"transform":[{"filter":"datum.r=='d'&&datum.p==3"}],"mark":{"type":"line","color":"#8c8c8c","strokeWidth":1},"encoding":{"x":{"field":"g","type":"nominal","title":null},"y":{"field":"y","type":"quantitative","title":null},"order":{"field":"s","type":"quantitative"}}},
  {"data":{"name":"stars"},"transform":[{"filter":"datum.r=='d'&&datum.p==3"}],"mark":{"type":"text","baseline":"middle","dy":2,"fontSize":11,"fill":"#222"},"encoding":{"x":{"field":"g","type":"nominal","title":null},"y":{"field":"y","type":"quantitative","title":null},"text":{"field":"lab"}}}
 ]},
 {"width":120,"height":80,"layer":[
  {"data":{"name":"bars"},"transform":[{"filter":"datum.r=='d'&&datum.p==4"}],
   "encoding":{"x":{"field":"g","type":"nominal","scale":{"domain":["white","gray","black"],"paddingInner":0.5,"paddingOuter":0.25},"axis":{"labels":false,"ticks":false,"title":null}},"y":{"field":"v","type":"quantitative","scale":{"domain":[0,6]},"axis":{"values":[0,3,6],"title":null}}},
   "layer":[
    {"mark":{"type":"errorbar","color":"#8c8c8c","thickness":1,"ticks":{"size":8,"color":"#8c8c8c"},"rule":{"color":"#8c8c8c"}},"encoding":{"y2":{"field":"hi"}}},
    {"mark":{"type":"bar","stroke":"#000","strokeWidth":1.5},"encoding":{"fill":{"field":"g","type":"nominal","scale":{"domain":["black","gray","white"],"range":["#000","#8c8c8c","#fff"]},"legend":null}}}
   ]},
  {"data":{"name":"brackets"},"transform":[{"filter":"datum.r=='d'&&datum.p==4"}],"mark":{"type":"line","color":"#8c8c8c","strokeWidth":1},"encoding":{"x":{"field":"g","type":"nominal","title":null},"y":{"field":"y","type":"quantitative","title":null},"order":{"field":"s","type":"quantitative"}}},
  {"data":{"name":"stars"},"transform":[{"filter":"datum.r=='d'&&datum.p==4"}],"mark":{"type":"text","baseline":"middle","dy":2,"fontSize":11,"fill":"#222"},"encoding":{"x":{"field":"g","type":"nominal","title":null},"y":{"field":"y","type":"quantitative","title":null},"text":{"field":"lab"}}}
 ]},
 {"width":120,"height":80,"layer":[
  {"data":{"name":"bars"},"transform":[{"filter":"datum.r=='d'&&datum.p==5"}],
   "encoding":{"x":{"field":"g","type":"nominal","scale":{"domain":["white","gray","black"],"paddingInner":0.5,"paddingOuter":0.25},"axis":{"labels":false,"ticks":false,"title":null}},"y":{"field":"v","type":"quantitative","scale":{"domain":[0,6]},"axis":{"values":[0,3,6],"title":null}}},
   "layer":[
    {"mark":{"type":"errorbar","color":"#8c8c8c","thickness":1,"ticks":{"size":8,"color":"#8c8c8c"},"rule":{"color":"#8c8c8c"}},"encoding":{"y2":{"field":"hi"}}},
    {"mark":{"type":"bar","stroke":"#000","strokeWidth":1.5},"encoding":{"fill":{"field":"g","type":"nominal","scale":{"domain":["black","gray","white"],"range":["#000","#8c8c8c","#fff"]},"legend":null}}}
   ]},
  {"data":{"name":"brackets"},"transform":[{"filter":"datum.r=='d'&&datum.p==5"}],"mark":{"type":"line","color":"#8c8c8c","strokeWidth":1},"encoding":{"x":{"field":"g","type":"nominal","title":null},"y":{"field":"y","type":"quantitative","title":null},"order":{"field":"s","type":"quantitative"}}},
  {"data":{"name":"stars"},"transform":[{"filter":"datum.r=='d'&&datum.p==5"}],"mark":{"type":"text","baseline":"middle","dy":2,"fontSize":11,"fill":"#222"},"encoding":{"x":{"field":"g","type":"nominal","title":null},"y":{"field":"y","type":"quantitative","title":null},"text":{"field":"lab"}}}
 ]}
]}
]
}
